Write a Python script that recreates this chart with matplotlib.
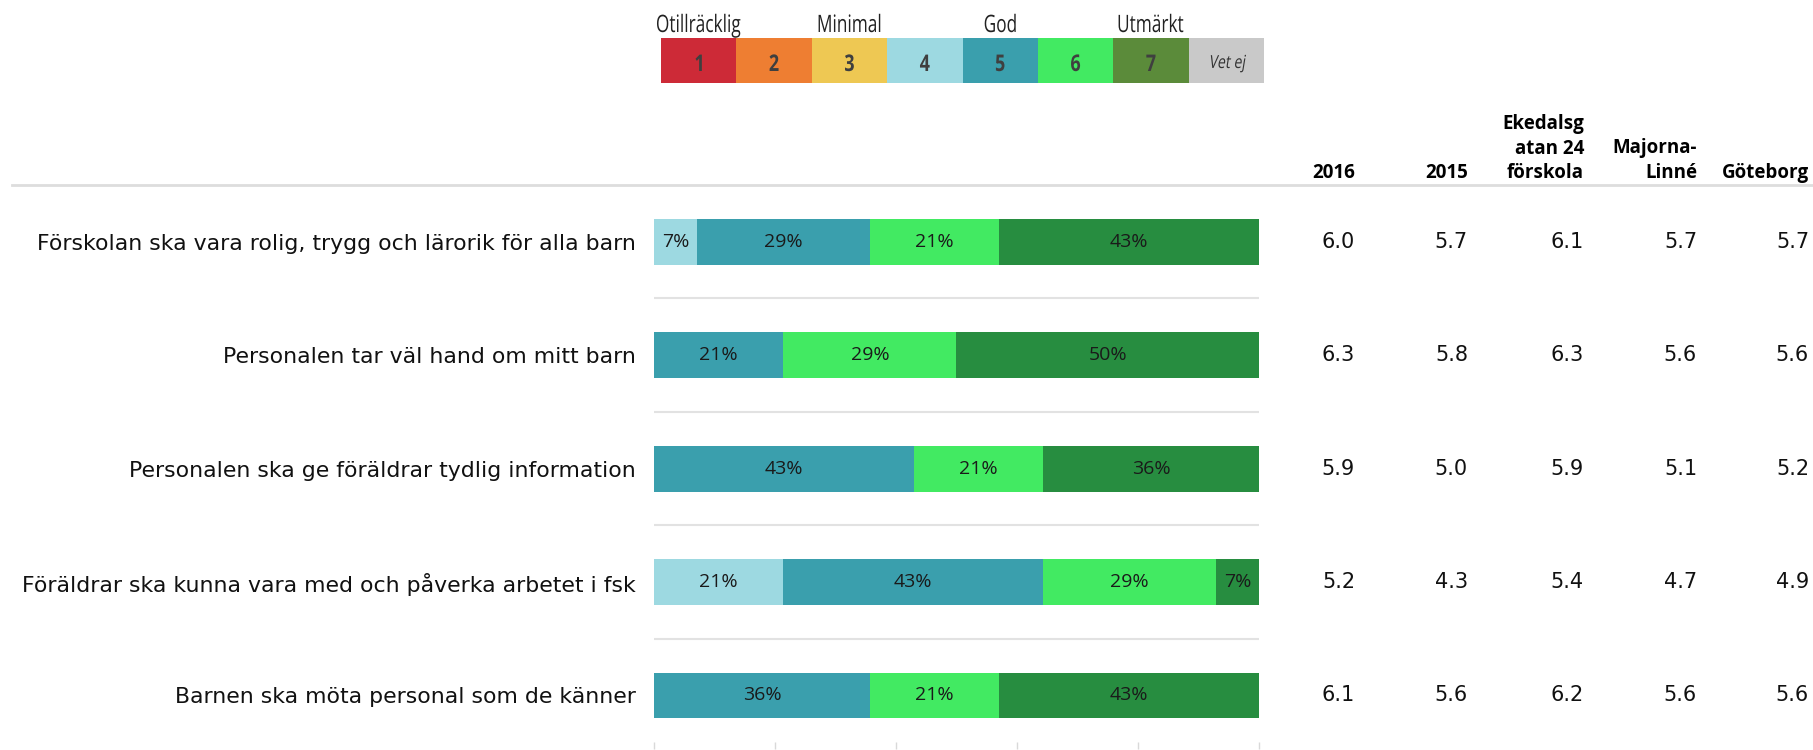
import numpy as np
import matplotlib.pyplot as plt
from matplotlib.lines import Line2D
from matplotlib.patches import PathPatch
from matplotlib.textpath import TextPath
from matplotlib.font_manager import FontProperties
from matplotlib.transforms import Affine2D, blended_transform_factory

plt.rcParams['font.family'] = ['DejaVu Sans']

W, H = 1813, 750

statements = [
    'Förskolan ska vara rolig, trygg och lärorik för alla barn',
    'Personalen tar väl hand om mitt barn',
    'Personalen ska ge föräldrar tydlig information',
    'Föräldrar ska kunna vara med och påverka arbetet i fsk',
    'Barnen ska möta personal som de känner',
]
# andel svar per betyg (procent)
share_4 = [7.1, 0.0, 0.0, 21.4, 0.0]
share_5 = [28.6, 21.4, 42.9, 42.9, 35.7]
share_6 = [21.4, 28.6, 21.4, 28.6, 21.4]
share_7 = [42.9, 50.0, 35.7, 7.1, 42.9]

col_names = ['2016', '2015', 'Ekedalsg\natan 24\nförskola', 'Majorna-\nLinné', 'Göteborg']
mean_2016 = [6.0, 6.3, 5.9, 5.2, 6.1]
mean_2015 = [5.7, 5.8, 5.0, 4.3, 5.6]
mean_ekedal = [6.1, 6.3, 5.9, 5.4, 6.2]
mean_majorna = [5.7, 5.6, 5.1, 4.7, 5.6]
mean_gbg = [5.7, 5.6, 5.2, 4.9, 5.6]

scale_labels = ['1', '2', '3', '4', '5', '6', '7', 'Vet ej']
scale_words = ['Otillräcklig', 'Minimal', 'God', 'Utmärkt']
legend_colors = ['#CD2A37', '#EE7E32', '#EEC853', '#9DD9E1',
                 '#3A9FAD', '#42EA62', '#5B8B3A', '#C9C9C9']
bar_colors = ['#9DD9E1', '#3A9FAD', '#42EA62', '#278D40']

fig = plt.figure(figsize=(W / 100, H / 100), dpi=100)
px = Affine2D().scale(1 / W, 1 / H) + fig.transFigure  # pixels, y upwards


def px_axes(x0, y0, x1, y1):
    # box in pixels, y counted from the top
    return fig.add_axes([x0 / W, 1 - y1 / H, (x1 - x0) / W, (y1 - y0) / H])


def narrow_text(xc, baseline, s, size, squeeze, weight='normal', color='#222222', slant=0):
    # condensed look: squeeze a text path horizontally (slant fakes italic)
    tp = TextPath((0, 0), s, size=size, prop=FontProperties(family='Open Sans', weight=weight))
    bb = tp.get_extents()
    tr = (Affine2D().translate(-(bb.x0 + bb.x1) / 2, 0).skew_deg(slant, 0)
          .scale(squeeze, 1).translate(xc, baseline))
    fig.add_artist(PathPatch(tr.transform_path(tp), transform=px, color=color, lw=0))


# --- stacked bars
ax = px_axes(654, 185, 1259, 742)
y = np.arange(len(statements))
left = np.zeros(len(statements))
for vals, c in zip([share_4, share_5, share_6, share_7], bar_colors):
    vals = np.array(vals)
    ax.barh(y, vals, left=left, height=0.405, color=c, linewidth=0)
    for i, v in enumerate(vals):
        if v > 0:
            ax.text(left[i] + v / 2, i, f'{v:.0f}%', ha='center', va='center',
                    fontsize=14, color='#1a1a1a', family='Open Sans')
    left += vals

ax.hlines(y[:-1] + 0.5, 0, 100, color='#E2E2E2', lw=1.5)
ax.set_xlim(0, 100)
ax.set_ylim(4.41, -0.5)
ax.set_xticks(np.arange(0, 101, 20))
ax.set_xticklabels([])
ax.tick_params(axis='x', length=5, color='#D9D9D9', width=1)
ax.set_yticks(y)
ax.set_yticklabels(statements, fontsize=15.8, color='#111111')
ax.tick_params(axis='y', length=0, pad=13)
for s in ax.spines.values():
    s.set_visible(False)

# --- table of means
right_edges = [1355, 1468, 1584, 1697, 1809]
trans = blended_transform_factory(fig.transFigure, ax.transData)
for name, vals, xr in zip(col_names,
                          [mean_2016, mean_2015, mean_ekedal, mean_majorna, mean_gbg],
                          right_edges):
    fig.text(xr / W, 1 - 183 / H, name, ha='right', va='bottom', family='Open Sans',
             fontsize=13.5, fontweight='bold', linespacing=1.3)
    for i, v in enumerate(vals):
        ax.text(xr / W, i, f'{v:.1f}', ha='right', va='center',
                transform=trans, fontsize=15, color='#111111')

fig.add_artist(Line2D([12 / W, 1], [1 - 185 / H] * 2, color='#DDDDDD', lw=2))

# --- colour scale legend
lax = px_axes(661, 38, 1264, 83)
lax.bar(np.arange(8), 1, width=1, align='edge', color=legend_colors, linewidth=0)
lax.set_xlim(0, 8)
lax.set_ylim(0, 1)
lax.axis('off')
for k, lab in enumerate(scale_labels):
    xc = lax.transData.transform((k + 0.5, 0))[0]
    if lab == 'Vet ej':
        narrow_text(xc, H - 68, lab, 18, 0.78, color='#333333', slant=12)
    else:
        narrow_text(xc, H - 71, lab, 23, 0.78, weight='bold', color='#3F3F3F')
for k, word in enumerate(scale_words):
    xc = lax.transData.transform((2 * k + 0.5, 0))[0]
    narrow_text(xc, H - 32, word, 24, 0.72)

fig.savefig('out.png', dpi=100)
